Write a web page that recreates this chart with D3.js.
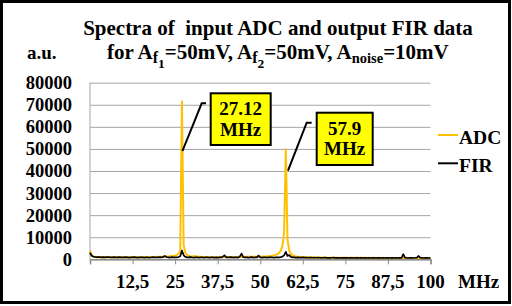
<!DOCTYPE html>
<html>
<head>
<meta charset="utf-8">
<script src="https://cdn.jsdelivr.net/npm/d3@7"></script>
</head>
<body style="margin:0">
<svg id="chart" width="512" height="306"></svg>
<script>
// frequency grid, MHz (0.5 MHz bins)
var freqs = d3.range(0, 100.5, 0.5);

// ADC spectrum, a.u., one value per bin
var adcValues = [
  3900, 1800, 1200, 1000, 950, 900, 950, 900, 920, 880,      // 0 - 4.5
  900, 950, 900, 880, 920, 900, 870, 900, 920, 900,          // 5 - 9.5
  880, 900, 920, 900, 880, 900, 950, 920, 900, 950,          // 10 - 14.5
  920, 950, 1000, 950, 980, 1000, 1050, 1000, 1050, 1100,    // 15 - 19.5
  1050, 1100, 1150, 1150, 1200, 1300, 1300, 1400, 1500, 1600, // 20 - 24.5
  1750, 2000, 2500, 3800, 71500, 6500, 2800, 2000, 1600, 1400, // 25 - 29.5
  1300, 1350, 1450, 1250, 1150, 1100, 1050, 1000, 1000, 950, // 30 - 34.5
  950, 920, 900, 950, 920, 900, 950, 1000, 950, 950,         // 35 - 39.5
  980, 1000, 1050, 1000, 1000, 1050, 1050, 1100, 1100, 1050, // 40 - 44.5
  1100, 1100, 1150, 1100, 1150, 1150, 1200, 1200, 1150, 1200, // 45 - 49.5
  1250, 1200, 1250, 1300, 1300, 1400, 1500, 1600, 1800, 2000, // 50 - 54.5
  2300, 2800, 3800, 6000, 12000, 49800, 9000, 4000, 2500, 1800, // 55 - 59.5
  1500, 1300, 1200, 1100, 1050, 1000, 950, 950, 900, 880,    // 60 - 64.5
  850, 850, 820, 800, 800, 780, 800, 780, 760, 750,          // 65 - 69.5
  750, 720, 740, 720, 700, 720, 700, 700, 680, 700,          // 70 - 74.5
  680, 700, 690, 670, 680, 660, 680, 650, 670, 660,          // 75 - 79.5
  650, 660, 640, 650, 660, 640, 650, 630, 650, 640,          // 80 - 84.5
  630, 640, 650, 630, 640, 620, 640, 630, 620, 640,          // 85 - 89.5
  630, 620, 640, 630, 620, 640, 650, 630, 620, 640,          // 90 - 94.5
  630, 620, 610, 630, 620, 610, 600, 620, 610, 620,          // 95 - 99.5
  600                                                         // 100
];

// FIR spectrum, a.u., one value per bin
var firValues = [
  3000, 1600, 1200, 1050, 1000, 950, 1000, 900, 1000, 850,   // 0 - 4.5
  950, 1000, 850, 900, 1000, 850, 900, 950, 850, 900,        // 5 - 9.5
  850, 950, 900, 800, 900, 850, 950, 900, 800, 900,          // 10 - 14.5
  850, 900, 800, 850, 900, 800, 850, 950, 850, 900,          // 15 - 19.5
  850, 950, 900, 1100, 1500, 1000, 900, 800, 950, 850,       // 20 - 24.5
  900, 850, 1000, 1400, 4000, 1800, 1100, 900, 850, 950,     // 25 - 29.5
  850, 800, 900, 850, 800, 900, 850, 800, 850, 900,          // 30 - 34.5
  800, 850, 900, 800, 850, 800, 900, 850, 1200, 1800,        // 35 - 39.5
  900, 850, 900, 1000, 800, 850, 900, 800, 1200, 2600,       // 40 - 44.5
  1000, 850, 900, 800, 850, 950, 800, 850, 900, 1700,        // 45 - 49.5
  900, 800, 850, 900, 800, 850, 900, 850, 800, 850,          // 50 - 54.5
  900, 850, 1000, 1200, 1800, 3400, 1500, 1900, 1100, 900,   // 55 - 59.5
  850, 800, 850, 750, 800, 850, 750, 800, 700, 750,          // 60 - 64.5
  800, 700, 750, 700, 750, 700, 650, 700, 750, 650,          // 65 - 69.5
  700, 650, 700, 750, 650, 700, 650, 600, 700, 650,          // 70 - 74.5
  700, 650, 600, 650, 700, 600, 650, 700, 600, 650,          // 75 - 79.5
  600, 650, 700, 600, 650, 600, 700, 650, 600, 650,          // 80 - 84.5
  700, 600, 650, 600, 700, 650, 600, 650, 700, 600,          // 85 - 89.5
  650, 600, 700, 650, 2300, 800, 650, 600, 700, 650,         // 90 - 94.5
  600, 700, 800, 1500, 750, 650, 600, 700, 650, 600,         // 95 - 99.5
  650                                                         // 100
];

var yTicks = [0, 10000, 20000, 30000, 40000, 50000, 60000, 70000, 80000];
var xTicks = [12.5, 25, 37.5, 50, 62.5, 75, 87.5, 100];
var xTickLabels = ["12,5", "25", "37,5", "50", "62,5", "75", "87,5", "100"];

var seriesNames = ["ADC", "FIR"];
var seriesColors = ["#ffc000", "#000000"];

// peak call-outs
var peakFreqs = [27, 58];
var peakLabels = [["27.12", "MHz"], ["57.9", "MHz"]];

var svg = d3.select("#chart");

var x = d3.scaleLinear().domain([0, 100]).range([90, 430.5]);
var y = d3.scaleLinear().domain([0, 80000]).range([259.3, 82.7]);

function txt(sel, size) {
    return sel.style("font-family", "'Liberation Serif'")
              .style("font-weight", "bold")
              .style("font-size", size + "px")
              .attr("fill", "#000");
}

// outer frame
svg.append("rect")
   .attr("x", 1.5).attr("y", 1.5)
   .attr("width", 508).attr("height", 301)
   .attr("fill", "none")
   .attr("stroke", "#000")
   .attr("stroke-width", 3);

// gridlines
svg.append("g")
   .attr("transform", "translate(90,0)")
   .call(d3.axisLeft(y).tickValues(yTicks).tickSize(-340.5).tickFormat(""))
   .call(function(g) {
       g.select(".domain").remove();
       g.selectAll("line").attr("stroke", "#a6a6a6").attr("stroke-width", 1);
   });

// y labels
svg.append("g")
   .selectAll("text")
   .data(yTicks)
   .enter()
   .append("text")
   .attr("x", 72)
   .attr("y", function(d) { return y(d); })
   .attr("dy", "0.35em")
   .attr("text-anchor", "end")
   .call(txt, 18.5)
   .text(function(d) { return d; });

// left axis line
svg.append("line")
   .attr("x1", 90).attr("x2", 90)
   .attr("y1", y(80000)).attr("y2", y(0))
   .attr("stroke", "#a6a6a6").attr("stroke-width", 1);

// x axis
svg.append("g")
   .attr("transform", "translate(0," + y(0) + ")")
   .call(d3.axisBottom(x).tickValues([0].concat(xTicks)).tickSize(5).tickFormat(""))
   .call(function(g) {
       g.select(".domain").attr("stroke", "#8c8c8c").attr("stroke-width", 1.5);
       g.selectAll("line").attr("stroke", "#8c8c8c");
   });

svg.append("g")
   .selectAll("text")
   .data(xTicks)
   .enter()
   .append("text")
   .attr("x", function(d) { return x(d); })
   .attr("y", 288)
   .attr("text-anchor", "middle")
   .call(txt, 19)
   .text(function(d, i) { return xTickLabels[i]; });

svg.append("text")
   .attr("x", 458).attr("y", 288)
   .call(txt, 19)
   .text("MHz");

svg.append("text")
   .attr("x", 27).attr("y", 59)
   .call(txt, 19)
   .text("a.u.");

// series
var line = d3.line()
   .x(function(d) { return x(d[0]); })
   .y(function(d) { return y(d[1]); });

[adcValues, firValues].forEach(function(vals, k) {
    svg.append("path")
       .datum(freqs.map(function(f, i) { return [f, vals[i]]; }))
       .attr("fill", "none")
       .attr("stroke", seriesColors[k])
       .attr("stroke-width", k == 0 ? 2 : 1.7)
       .attr("stroke-linejoin", "round")
       .attr("d", line);
});

// title
svg.append("text")
   .attr("x", 278).attr("y", 35)
   .attr("text-anchor", "middle")
   .style("white-space", "pre")
   .call(txt, 21)
   .text("Spectra of  input ADC and output FIR data");

var t2 = svg.append("text")
   .attr("x", 107).attr("y", 59)
   .call(txt, 21);
function sub(parent, s, size, dy) {
    parent.append("tspan").style("font-size", size + "px").attr("dy", dy).text(s);
}
sub(t2, "for A", 21, 0);
sub(t2, "f", 16, 4);
sub(t2, "1", 13.5, 5);
sub(t2, "=50mV, A", 21, -9);
sub(t2, "f", 16, 4);
sub(t2, "2", 13.5, 5);
sub(t2, "=50mV, A", 21, -9);
sub(t2, "noise", 14.5, 3.5);
sub(t2, "=10mV", 21, -3.5);

// legend
seriesNames.forEach(function(name, k) {
    var ly = 135 + k * 28.3;
    svg.append("line")
       .attr("x1", 438).attr("x2", 458)
       .attr("y1", ly).attr("y2", ly)
       .attr("stroke", seriesColors[k]).attr("stroke-width", 2);
    svg.append("text")
       .attr("x", 459).attr("y", ly + 9)
       .call(txt, 19.5)
       .text(name);
});

// call-outs
var boxes = [
    {bx: 210.7, by: 93.3, bw: 60, bh: 51.7, ex: 201.7, ey: 103.3, hx: 206, py: 151},
    {bx: 316.7, by: 112.7, bw: 56, bh: 52.3, ex: 306.7, ey: 122.7, hx: 311.7, py: 170.7}
];
boxes.forEach(function(b, k) {
    var px = x(peakFreqs[k]) + 0.5;
    svg.append("polyline")
       .attr("points", [[px, b.py], [b.ex, b.ey], [b.hx, b.ey]].join(" "))
       .attr("fill", "none").attr("stroke", "#000").attr("stroke-width", 2);
    svg.append("rect")
       .attr("x", b.bx).attr("y", b.by)
       .attr("width", b.bw).attr("height", b.bh)
       .attr("fill", "#ffff00").attr("stroke", "#000").attr("stroke-width", 2);
    peakLabels[k].forEach(function(s, j) {
        svg.append("text")
           .attr("x", b.bx + b.bw / 2)
           .attr("y", b.by + 22 + j * 20.5)
           .attr("text-anchor", "middle")
           .call(txt, 19)
           .text(s);
    });
});
</script>
</body>
</html>
